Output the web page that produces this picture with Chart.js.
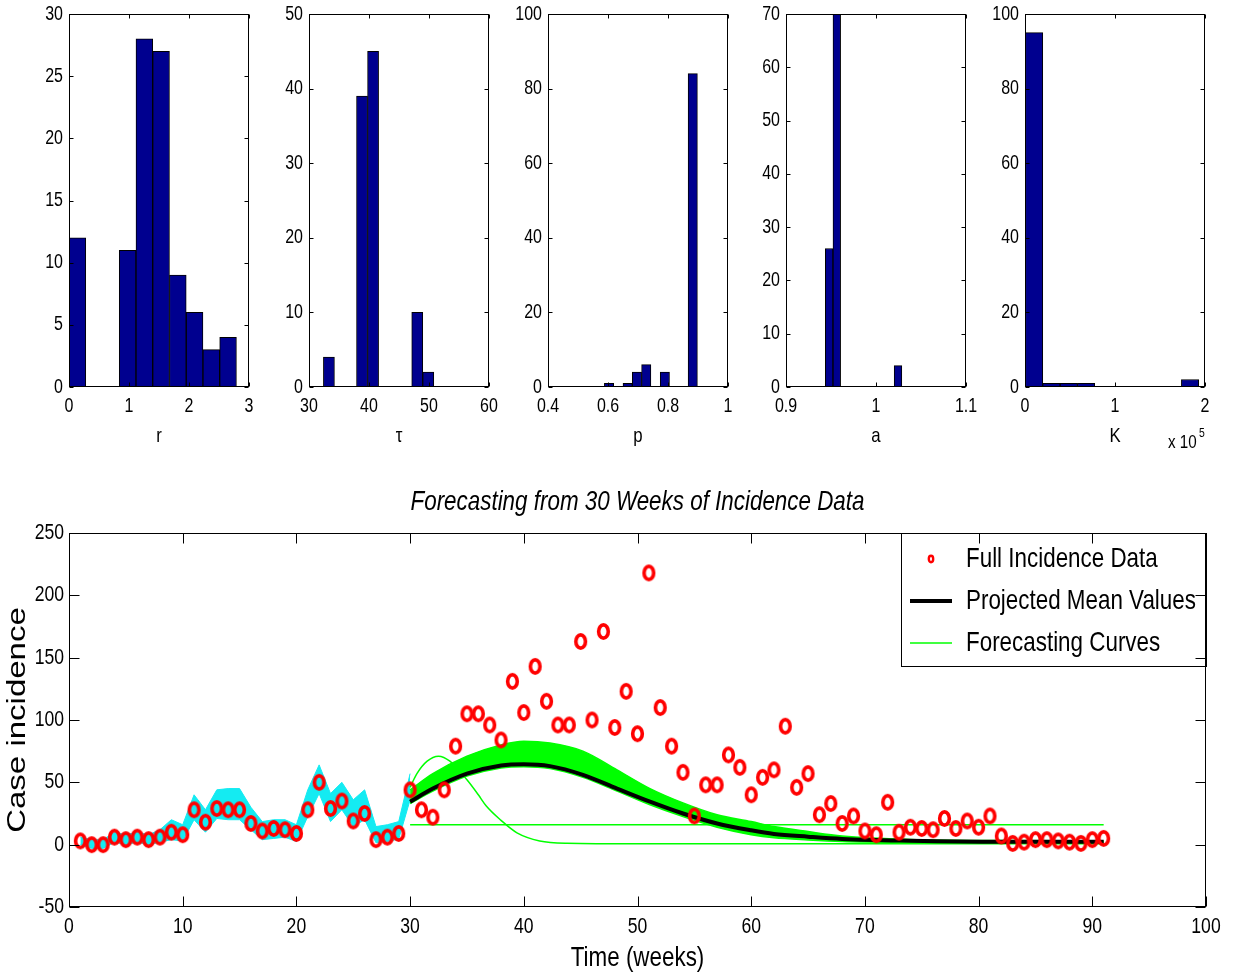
<!DOCTYPE html>
<html>
<head>
<meta charset="utf-8">
<title>Forecasting from 30 Weeks of Incidence Data</title>
<script src="https://cdn.jsdelivr.net/npm/chart.js@4.4.1/dist/chart.umd.min.js"></script>
<style>
    body { margin: 0; background: #fff; }
    #page { position: relative; width: 1234px; height: 978px; overflow: hidden; }
    canvas { position: absolute; }
</style>
</head>
<body>
<div id="page">
    <canvas id="hist-r"></canvas>
    <canvas id="hist-tau"></canvas>
    <canvas id="hist-p"></canvas>
    <canvas id="hist-a"></canvas>
    <canvas id="hist-k"></canvas>
    <canvas id="forecast"></canvas>
</div>
<script>
// parameter histograms: bin centres and counts
const rBins = [0.140, 0.419, 0.698, 0.977, 1.256, 1.535, 1.814, 2.093, 2.372, 2.651];
const rCounts = [12, 0, 0, 11, 28, 27, 9, 6, 3, 4];
const tauBins = [33.32, 35.16, 37.00, 38.84, 40.68, 42.52, 44.36, 46.20, 48.04, 49.88];
const tauCounts = [4, 0, 0, 39, 45, 0, 0, 0, 10, 2];
const pBins = [0.6035, 0.6345, 0.6655, 0.6965, 0.7275, 0.7585, 0.7895, 0.8205, 0.8515, 0.8825];
const pCounts = [1, 0, 1, 4, 6, 0, 4, 0, 0, 84];
const aBins = [0.94795, 0.95645, 0.96495, 0.97345, 0.98195, 0.99045, 0.99895, 1.00745, 1.01595, 1.02445];
const aCounts = [26, 70, 0, 0, 0, 0, 0, 0, 0, 4];
const kBins = [10125, 29375, 48625, 67875, 87125, 106375, 125625, 144875, 164125, 183375];
const kCounts = [95, 1, 1, 1, 0, 0, 0, 0, 0, 2];

// weekly case incidence, weeks 1..91
const incidence = [3, 0, 0, 6, 4, 6, 4, 6, 10, 8,
    28, 18, 29, 28, 28, 17, 11, 13, 12, 9,
    28, 50, 29, 35, 19, 25, 4, 6, 9, 44,
    28, 22, 44, 79, 105, 105, 96, 84, 131, 106,
    143, 115, 96, 96, 163, 100, 171, 94, 123, 89,
    218, 110, 79, 58, 23, 48, 48, 72, 62, 40,
    54, 60, 95, 46, 57, 24, 33, 17, 23, 11,
    8, 34, 10, 14, 13, 12, 21, 13, 19, 14,
    23, 7, 1, 2, 4, 4, 3, 2, 1, 4, 5];
const weeks = incidence.map((_, i) => i + 1);

// spread of the fitted curves over the calibration window (weeks 1..30)
const fitUpper = [6, 4, 4, 10, 8, 10, 8, 12, 20, 16,
    40, 28, 44, 45, 45, 30, 18.5, 20, 20, 16,
    44, 64, 41, 50, 36, 44, 14.5, 16, 18.5, 57];
const fitLower = [0, -3, -3, 2, 0, 2, 0, 2, 4, 3,
    20, 10, 21, 20, 20, 12, 4, 5, 6, 2.5,
    22.5, 41, 18.5, 28, 14.5, 20, 1.5, 2.5, 4.5, 36];

// forecasts from week 30 on
const forecastWeeks = [30, 32, 35, 38, 40, 42.3, 45.2, 48.2, 51.1, 54, 57, 60, 62, 65, 68, 74, 82, 91];
const meanValues = [34.5, 45, 57, 63.5, 64.5, 63, 56, 45, 34.5, 25, 17, 11.5, 8.6, 6.4, 4.6, 3.2, 2.4, 2.4];
const curvesUpper = [44, 57, 71, 80, 83, 81.5, 75, 60, 45, 33.5, 24, 18.5, 14.5, 10.5, 7, 4.2, 3.3, 3];
const curvesLower = [33, 43, 55, 61.5, 62.5, 61, 54, 43, 32, 22.5, 14, 8, 5.5, 3.8, 2.6, 1.8, 1.5, 1.5];
const earlyWeeks = [30, 30.6, 31.5, 32.5, 33.5, 35, 36, 36.7, 38, 39.4, 41.4, 43.8, 50, 91];
const earlyValues = [46, 57, 67, 71, 67, 52, 40, 31, 19.5, 9.5, 3, 1.2, 0.8, 0.8];
const flatWeeks = [30, 91];
const flatValues = [16, 16];

const SANS = "'Liberation Sans', Arial, Helvetica, sans-serif";
const NAVY = 'rgb(0, 0, 143)';
const GREEN = '#00ff00';
const CYAN = 'rgb(20, 235, 242)';
const SQUEEZE = 0.8;   // horizontal text compression, narrow Helvetica look

Chart.defaults.font.family = SANS;
Chart.defaults.color = '#000';

const pts = (xs, ys) => xs.map((x, i) => ({x: x, y: ys[i]}));

// draw every string on this context compressed along the screen x axis,
// around its own anchor so left/right/centre alignment is kept
function narrowText(ctx, sx) {
    const fill = ctx.fillText.bind(ctx);
    ctx.fillText = function (text, x, y, maxWidth) {
        const m = ctx.getTransform();
        const px = m.a * x + m.c * y + m.e;
        ctx.save();
        ctx.setTransform(new DOMMatrix().translate(px, 0).scale(sx, 1).translate(-px, 0).multiply(m));
        if (maxWidth === undefined) {
            fill(text, x, y);
        } else {
            fill(text, x, y, maxWidth / sx);
        }
        ctx.restore();
    };
    return ctx;
}

// fixed axis sizes, no extra room reserved for overhanging labels
const fixWidth = w => s => { s.width = w; s.paddingTop = 0; s.paddingBottom = 0; };
const fixHeight = h => s => { s.height = h; s.paddingLeft = 0; s.paddingRight = 0; };

// closed frame with short inward tick marks on all four sides
const boxTicks = {
    id: 'boxTicks',
    afterDatasetsDraw(chart, args, opts) {
        const {ctx, chartArea: a, scales: {x, y}} = chart;
        const len = opts.len || 5;
        const l = Math.round(a.left) + 0.5, r = Math.round(a.right) - 0.5;
        const t = Math.round(a.top) + 0.5, b = Math.round(a.bottom) - 0.5;
        ctx.save();
        ctx.strokeStyle = '#000';
        ctx.lineWidth = 1;
        ctx.beginPath();
        x.ticks.forEach(tk => {
            const px = Math.round(x.getPixelForValue(tk.value)) + 0.5;
            ctx.moveTo(px, b); ctx.lineTo(px, b - len);
            ctx.moveTo(px, t); ctx.lineTo(px, t + len);
        });
        y.ticks.forEach(tk => {
            const py = Math.round(y.getPixelForValue(tk.value)) + 0.5;
            ctx.moveTo(l, py); ctx.lineTo(l + len, py);
            ctx.moveTo(r, py); ctx.lineTo(r - len, py);
        });
        ctx.stroke();
        ctx.strokeRect(l, t, r - l, b - t);
        ctx.restore();
    }
};

// "x 10^5" multiplier under the K axis
const sciNote = {
    id: 'sciNote',
    afterDraw(chart) {
        const {ctx, chartArea: a} = chart;
        ctx.save();
        ctx.fillStyle = '#000';
        ctx.textAlign = 'left';
        ctx.textBaseline = 'alphabetic';
        ctx.font = '19px ' + SANS;
        ctx.fillText('x 10', a.right - 37, 448);
        ctx.font = '13px ' + SANS;
        ctx.fillText('5', a.right - 6, 437);
        ctx.restore();
    }
};

const trimNum = v => String(+Number(v).toFixed(3));

function histogram(id, plotLeft, bins, counts, xMin, xMax, xStep, yMax, yStep, xLabel, xFormat, extra) {
    const canvas = document.getElementById(id);
    canvas.width = 180 + 69 + 24;
    canvas.height = 460;
    canvas.style.left = (plotLeft - 69) + 'px';
    canvas.style.top = '0px';

    return new Chart(narrowText(canvas.getContext('2d'), SQUEEZE), {
        type: 'bar',
        data: {
            datasets: [{
                data: pts(bins, counts),
                backgroundColor: NAVY,
                borderColor: '#000',
                borderWidth: 1,
                barPercentage: 1,
                categoryPercentage: 1
            }]
        },
        options: {
            responsive: false,
            animation: false,
            layout: {padding: {top: 14, right: 24, left: 0, bottom: 0}},
            plugins: {
                legend: {display: false},
                tooltip: {enabled: false},
                boxTicks: {len: 4}
            },
            scales: {
                x: {
                    type: 'linear',
                    offset: false,
                    min: xMin,
                    max: xMax,
                    afterFit: fixHeight(73),
                    grid: {display: false, drawTicks: false},
                    border: {display: false},
                    ticks: {
                        stepSize: xStep,
                        autoSkip: false,
                        maxRotation: 0,
                        padding: 7,
                        font: {size: 20},
                        callback: xFormat || trimNum
                    },
                    title: {display: true, text: xLabel, font: {size: 21}, padding: {top: 0, bottom: 11}}
                },
                y: {
                    min: 0,
                    max: yMax,
                    afterFit: fixWidth(69),
                    grid: {display: false, drawTicks: false},
                    border: {display: false},
                    ticks: {stepSize: yStep, padding: 6, font: {size: 20}}
                }
            }
        },
        plugins: extra ? [boxTicks, extra] : [boxTicks]
    });
}

histogram('hist-r', 69, rBins, rCounts, 0, 3, 1, 30, 5, 'r');
histogram('hist-tau', 309, tauBins, tauCounts, 30, 60, 10, 50, 10, 'τ');
histogram('hist-p', 548, pBins, pCounts, 0.4, 1, 0.2, 100, 20, 'p');
histogram('hist-a', 786, aBins, aCounts, 0.9, 1.1, 0.1, 70, 10, 'a');
histogram('hist-k', 1025, kBins, kCounts, 0, 200000, 100000, 100, 20, 'K', v => trimNum(v / 100000), sciNote);

// ring markers, a little taller than wide
function ringImage(rx, ry, lw) {
    const c = document.createElement('canvas');
    c.width = Math.ceil(2 * (rx + lw));
    c.height = Math.ceil(2 * (ry + lw));
    const g = c.getContext('2d');
    g.strokeStyle = '#ff0000';
    g.lineWidth = lw;
    g.beginPath();
    g.ellipse(c.width / 2, c.height / 2, rx, ry, 0, 0, Math.PI * 2);
    g.stroke();
    return c;
}
const ring = ringImage(4.8, 6.6, 3.6);
const legendRing = ringImage(2.2, 3.2, 2.4);

// legend sits in the top-right corner of the plot, with a frame
const legendCorner = {
    id: 'legendCorner',
    afterLayout(chart) {
        const lg = chart.legend;
        lg.left = 896;
        lg.top = 61;
        lg.right = lg.left + lg.width;
        lg.bottom = lg.top + lg.height;
    },
    afterDraw(chart) {
        const ctx = chart.ctx;
        ctx.save();
        ctx.strokeStyle = '#000';
        ctx.lineWidth = 1;
        ctx.strokeRect(901.5, 63.5, 305, 133);
        ctx.restore();
    }
};

const main = document.getElementById('forecast');
main.width = 1234;
main.height = 508;
main.style.left = '0px';
main.style.top = '470px';

new Chart(narrowText(main.getContext('2d'), SQUEEZE), {
    type: 'line',
    data: {
        datasets: [
            {
                label: 'Full Incidence Data',
                data: pts(weeks, incidence),
                showLine: false,
                pointStyle: ring,
                pointRadius: 7,
                borderColor: '#ff0000',
                backgroundColor: '#ff0000'
            },
            {
                label: 'Projected Mean Values',
                data: pts(forecastWeeks, meanValues),
                borderColor: '#000',
                borderWidth: 4,
                pointRadius: 0,
                cubicInterpolationMode: 'monotone'
            },
            {
                label: 'Forecasting Curves',
                data: pts(earlyWeeks, earlyValues),
                borderColor: GREEN,
                borderWidth: 1.5,
                pointRadius: 0,
                cubicInterpolationMode: 'monotone'
            },
            {
                label: 'flat forecast',
                data: pts(flatWeeks, flatValues),
                borderColor: GREEN,
                borderWidth: 1.5,
                pointRadius: 0
            },
            {
                label: 'forecast upper',
                data: pts(forecastWeeks, curvesUpper),
                borderColor: GREEN,
                borderWidth: 1.5,
                backgroundColor: GREEN,
                fill: '+1',
                pointRadius: 0,
                cubicInterpolationMode: 'monotone'
            },
            {
                label: 'forecast lower',
                data: pts(forecastWeeks, curvesLower),
                borderColor: GREEN,
                borderWidth: 1.5,
                pointRadius: 0,
                cubicInterpolationMode: 'monotone'
            },
            {
                label: 'fit upper',
                data: pts(weeks.slice(0, 30), fitUpper),
                borderColor: CYAN,
                borderWidth: 1,
                backgroundColor: CYAN,
                fill: '+1',
                pointRadius: 0
            },
            {
                label: 'fit lower',
                data: pts(weeks.slice(0, 30), fitLower),
                borderColor: CYAN,
                borderWidth: 1,
                pointRadius: 0
            }
        ]
    },
    options: {
        responsive: false,
        animation: false,
        layout: {padding: {top: 0, right: 28, left: 0, bottom: 0}},
        plugins: {
            tooltip: {enabled: false},
            boxTicks: {len: 10},
            title: {
                display: true,
                fullSize: false,
                text: 'Forecasting from 30 Weeks of Incidence Data',
                font: {size: 28, style: 'italic', weight: 'normal'},
                padding: {top: 15.2, bottom: 14.2}
            },
            legend: {
                position: 'chartArea',
                align: 'start',
                labels: {
                    usePointStyle: true,
                    pointStyleWidth: 42,
                    padding: 14,
                    color: '#000',
                    font: {size: 28},
                    generateLabels: () => [
                        {text: 'Full Incidence Data', pointStyle: legendRing, strokeStyle: '#ff0000', fillStyle: '#ff0000', lineWidth: 0, hidden: false, datasetIndex: 0},
                        {text: 'Projected Mean Values', pointStyle: 'line', strokeStyle: '#000', fillStyle: '#000', lineWidth: 4, hidden: false, datasetIndex: 1},
                        {text: 'Forecasting Curves', pointStyle: 'line', strokeStyle: GREEN, fillStyle: GREEN, lineWidth: 1.5, hidden: false, datasetIndex: 2}
                    ]
                }
            }
        },
        scales: {
            x: {
                type: 'linear',
                min: 0,
                max: 100,
                afterFit: fixHeight(71),
                grid: {display: false, drawTicks: false},
                border: {display: false},
                ticks: {stepSize: 10, autoSkip: false, maxRotation: 0, padding: 7, font: {size: 22}},
                title: {display: true, text: 'Time (weeks)', font: {size: 28}, padding: {top: 0, bottom: 3}}
            },
            y: {
                min: -50,
                max: 250,
                afterFit: fixWidth(69),
                grid: {display: false, drawTicks: false},
                border: {display: false},
                ticks: {stepSize: 50, padding: 5, font: {size: 22}},
                title: {
                    display: true,
                    text: 'Case incidence',
                    font: {size: 33, lineHeight: 1.06},
                    padding: {top: 0, bottom: 0}
                }
            }
        }
    },
    plugins: [boxTicks, legendCorner]
});
</script>
</body>
</html>
